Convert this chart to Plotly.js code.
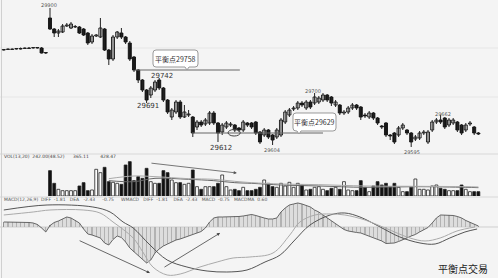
<!DOCTYPE html>
<html><head><meta charset="utf-8">
<script src="https://cdn.plot.ly/plotly-3.0.1.min.js"></script>
<style>html,body{margin:0;padding:0;background:#f4f4f4}#c{width:498px;height:278px}</style>
</head><body><div id="c"></div>
<script>
// ---- data ----
const openP = [29800,29801,29801,29802,29802,29803,29803,29804,29805,29804,29795,
29864,29842,29834,29836,29848,29844,29846,29846,29842,29834,29816,29828,29826,29842,29800,29782,29826,29834,29826,29814,29786,29760,29740,29720,29710,29720,29740,29724,29700,29666,29676,29696,29666,29670,29666,29646,29656,29652,29654,29674,29654,29636,29646,29650,29650,29644,29640,29654,29654,29656,29636,29630,29640,29630,29626,29630,29656,29670,29682,29684,29694,29684,29696,29694,29696,29700,29710,29706,29690,29690,29674,29676,29684,29690,29686,29670,29666,29674,29664,29648,29654,29630,29634,29630,29644,29640,29634,29622,29624,29634,29616,29640,29656,29660,29664,29650,29654,29656,29650,29640,29652,29646,29634];
const closeP = [29801,29801,29802,29802,29803,29803,29804,29805,29804,29794,29794,
29842,29834,29838,29848,29850,29852,29847,29834,29830,29814,29828,29830,29844,29800,29782,29826,29836,29826,29816,29782,29760,29740,29720,29700,29724,29736,29724,29700,29676,29680,29696,29666,29676,29672,29634,29656,29650,29660,29674,29654,29634,29650,29654,29652,29640,29640,29656,29650,29646,29634,29616,29640,29626,29620,29640,29660,29676,29680,29684,29694,29690,29696,29686,29706,29704,29710,29700,29694,29696,29674,29676,29684,29690,29684,29666,29668,29674,29664,29654,29646,29630,29628,29616,29644,29650,29634,29616,29626,29634,29636,29636,29656,29660,29656,29646,29660,29660,29640,29634,29650,29654,29634,29632];
const highP = [29802,29803,29803,29804,29805,29805,29806,29806,29806,29806,29796,
29884,29844,29842,29852,29854,29856,29850,29848,29844,29836,29832,29832,29864,29844,29802,29830,29838,29844,29828,29818,29788,29762,29742,29722,29728,29740,29744,29726,29702,29684,29700,29700,29690,29680,29668,29660,29660,29664,29678,29678,29656,29654,29658,29656,29652,29646,29660,29656,29656,29658,29638,29644,29642,29632,29644,29664,29680,29684,29688,29698,29698,29700,29700,29714,29708,29714,29712,29708,29700,29692,29680,29688,29694,29692,29688,29674,29678,29676,29666,29650,29656,29632,29636,29648,29654,29642,29636,29630,29638,29640,29640,29660,29664,29670,29666,29664,29664,29658,29652,29654,29658,29648,29636];
const lowP = [29799,29800,29800,29801,29801,29802,29802,29803,29803,29793,29792,
29840,29826,29826,29834,29846,29842,29844,29832,29828,29810,29812,29826,29824,29798,29770,29778,29822,29822,29812,29778,29756,29734,29716,29694,29704,29716,29720,29696,29672,29660,29672,29662,29664,29666,29626,29640,29646,29648,29650,29650,29616,29630,29642,29646,29636,29636,29636,29646,29642,29630,29612,29626,29622,29610,29622,29626,29652,29666,29678,29680,29686,29680,29682,29690,29692,29696,29696,29688,29686,29670,29670,29672,29680,29680,29660,29664,29662,29660,29650,29642,29626,29620,29612,29626,29640,29630,29606,29618,29620,29630,29612,29636,29652,29652,29642,29646,29650,29636,29630,29636,29648,29630,29630];
const volume = [null,null,null,null,null,null,null,null,null,null,null,
380,190,100,80,80,80,80,150,200,80,90,400,350,430,215,205,190,175,465,515,230,290,265,415,215,190,190,380,350,240,200,200,175,190,390,140,100,140,140,140,190,315,140,90,100,80,130,80,80,
100,130,240,190,140,130,190,150,205,130,190,165,90,100,130,140,100,80,115,130,100,215,90,80,80,230,130,65,150,215,165,190,140,190,130,65,65,130,255,100,100,90,150,165,115,100,80,80,80,165,100,65,65,65];
const volMA1x = [25,31,36,44,50,55,59,66,75,86,98,110,113];
const volMA1 = [230,215,265,250,230,200,190,165,150,130,140,130,125];
const volMA2 = [260,300,290,260,250,220,200,180,170,150,145,140,135];
const macdHist = [1.0,1.0,1.0,1.0,1.0,1.0,0.9,0.8,0.5,-0.2,-1.0,0.3,0.9,1.2,1.6,2.0,1.8,1.3,0.8,-0.4,-1.4,-1.6,-1.9,-2.2,-3.2,-3.6,-2.5,-1.8,-2.1,-3.0,-4.2,-5.0,-5.8,-6.4,-7.2,-6.6,-5.2,-4.4,-3.8,-3.4,-3.0,-2.6,-2.4,-2.1,-1.8,-1.5,-1.2,-0.9,-0.2,1.0,1.8,2.0,2.0,2.0,2.0,2.1,2.1,2.2,2.4,2.5,2.3,2.0,1.8,1.6,1.6,1.8,3.0,3.8,4.4,4.6,4.8,4.6,4.3,4.0,3.4,3.0,2.4,1.8,1.2,0.6,0.0,-0.5,-0.8,-1.0,-1.1,-1.2,-1.5,-1.8,-2.1,-2.4,-2.8,-3.3,-3.3,-3.2,-2.9,-2.6,-2.2,-1.8,-1.5,-1.0,-0.6,-0.1,0.8,1.8,2.4,2.4,2.4,2.3,2.1,1.8,1.3,0.9,0.5,0.2];
const deaX = [0,10.3,21.2,25.3,28.4,30.8,34.8,38.9,43.6,48.4,53.1,57.9,62.2,65.8,69.3,72.9,77.7,81.2,84.8,89.6,94.3,99.1,102.7,106.2,109.8,112.7];
const deaY = [3.4,4.4,4.0,3.0,1.0,-0.2,-3.6,-6.6,-8.0,-8.8,-9.0,-8.6,-7.0,-5.6,-2.6,0.4,2.4,2.8,2.0,0.0,-2.0,-3.2,-3.4,-2.2,-1.0,-0.4];
const diffX = [0,7,11,18.9,22.9,26,30.8,33.1,35.5,38.9,42,46.7,50.8,54.6,58.6,64.1,68.1,70.5,74.1,77.7,81.2,86,90.8,96.7,100.3,103.9,107.9,112.2];
const diffY = [2.4,3.0,3.4,3.4,2.8,1.0,-2.2,-5.0,-8.0,-9.6,-9.4,-8.0,-7.0,-6.2,-6.0,-5.2,-1.6,1.0,2.4,2.6,2.4,1.4,-0.2,-2.2,-2.8,-2.2,-0.8,0.0];
const idx = openP.map((_, i) => i);

// ---- helpers ----
const W = 498, H = 278;
const px = x => x / W, py = y => 1 - y / H;
const up = idx.map(i => closeP[i] >= openP[i]);
const bodyColor = up.map(u => u ? '#ffffff' : '#111111');
const bodyBase = idx.map(i => Math.min(openP[i], closeP[i]));
const bodyLen = idx.map(i => Math.max(Math.abs(closeP[i] - openP[i]), 1));
const wickX = [], wickY = [];
idx.forEach(i => { wickX.push(i, i, null); wickY.push(lowP[i], highP[i], null); });

const traces = [
  {type:'scatter', mode:'lines', x: wickX, y: wickY, xaxis:'x', yaxis:'y',
   line:{color:'#222', width:1}, hoverinfo:'skip', showlegend:false},
  {type:'bar', x: idx, y: bodyLen, base: bodyBase, xaxis:'x', yaxis:'y', width:0.72,
   marker:{color: bodyColor, line:{color:'#111', width:0.9}}, hoverinfo:'skip', showlegend:false},
  {type:'bar', x: idx, y: volume, xaxis:'x', yaxis:'y2', width:0.68,
   marker:{color: bodyColor, line:{color:'#222', width:0.8}}, showlegend:false, hoverinfo:'skip'},
  {type:'scatter', mode:'lines', x: volMA1x, y: volMA1, xaxis:'x', yaxis:'y2',
   line:{color:'#666', width:1, shape:'spline'}, showlegend:false, hoverinfo:'skip'},
  {type:'scatter', mode:'lines', x: volMA1x, y: volMA2, xaxis:'x', yaxis:'y2',
   line:{color:'#aaa', width:1, shape:'spline'}, showlegend:false, hoverinfo:'skip'},
  {type:'scatter', mode:'lines', x: idx, y: macdHist, xaxis:'x', yaxis:'y3', fill:'tozeroy',
   fillcolor:'rgba(205,205,205,0.6)', line:{color:'#666', width:1}, showlegend:false, hoverinfo:'skip'},
  {type:'bar', x: idx, y: macdHist, xaxis:'x', yaxis:'y3', width:0.3,
   marker:{color:'#8a8a8a'}, showlegend:false, hoverinfo:'skip'},
  {type:'scatter', mode:'lines', x: deaX, y: deaY, xaxis:'x', yaxis:'y3', line:{color:'#555', width:1, shape:'spline'}, showlegend:false, hoverinfo:'skip'},
  {type:'scatter', mode:'lines', x: diffX, y: diffY, xaxis:'x', yaxis:'y3', line:{color:'#aaa', width:1, shape:'spline'}, showlegend:false, hoverinfo:'skip'}
];

const tiny = {family:'DejaVu Sans', size:5, color:'#555'};
const small = {family:'DejaVu Sans', size:7, color:'#333'};
const cjk = {family:'Noto Sans CJK SC', size:7, color:'#333'};
const ann = [];
function ptext(text, x, y, font, anchor){ ann.push({text, x:px(x), y:py(y), xref:'paper', yref:'paper', showarrow:false, xanchor:anchor||'left', yanchor:'middle', font}); }
ptext('29900', 49, 5, tiny, 'center');
ptext('29742', 162, 76, small, 'center');
ptext('29691', 148, 106, small, 'center');
ptext('29612', 221, 148, small, 'center');
ptext('29604', 272, 150, tiny, 'center');
ptext('29700', 313, 91, tiny, 'center');
ptext('29595', 412, 152, tiny, 'center');
ptext('29662', 443, 114, tiny, 'center');
ptext('平衡点29758', 175.5, 58.5, cjk, 'center');
ptext('平衡点29629', 314.5, 122.5, cjk, 'center');
ptext('平衡点交易', 463, 268, {family:'Noto Sans CJK SC', size:10, color:'#222'}, 'center');
ptext('VOL(13,20)  242.00(48.52)      365.11        428.47', 2, 156, {family:'DejaVu Sans', size:4.5, color:'#444'});
ptext('MACD(12,26,9)  DIFF  -1.81   DEA   -2.43     -0.75     WMACD   DIFF  -1.81    DEA  -2.43   MACD  -0.75   MACDMA  0.60', 2, 199, {family:'DejaVu Sans', size:4.5, color:'#555'});
// arrows
ann.push({x:55.5, y:345, ax:34.8, ay:495, xref:'x', yref:'y2', axref:'x', ayref:'y2', showarrow:true, arrowhead:2, arrowsize:0.8, arrowwidth:0.8, arrowcolor:'#555', text:''});
ann.push({x:34.8, y:-9.2, ax:17.7, ay:-2.6, xref:'x', yref:'y3', axref:'x', ayref:'y3', showarrow:true, arrowhead:2, arrowsize:0.8, arrowwidth:0.8, arrowcolor:'#444', text:''});
ann.push({x:51.5, y:-1.2, ax:37.9, ay:-8.2, xref:'x', yref:'y3', axref:'x', ayref:'y3', showarrow:true, arrowhead:2, arrowsize:0.8, arrowwidth:0.8, arrowcolor:'#444', text:''});

// rounded callout boxes (paper coords, from pixel outline)
function callout(x0, y0, x1, y1, tx, r){
  const P = (x, y) => px(x).toFixed(5) + ',' + py(y).toFixed(5);
  return 'M' + P(x0 + r, y0) + ' L' + P(x1 - r, y0) + ' Q' + P(x1, y0) + ' ' + P(x1, y0 + r) +
    ' L' + P(x1, y1 - r) + ' Q' + P(x1, y1) + ' ' + P(x1 - r, y1) +
    ' L' + P(tx + 2, y1) + ' L' + P(tx, y1 + 3) + ' L' + P(tx - 2, y1) +
    ' L' + P(x0 + r, y1) + ' Q' + P(x0, y1) + ' ' + P(x0, y1 - r) +
    ' L' + P(x0, y0 + r) + ' Q' + P(x0, y0) + ' ' + P(x0 + r, y0) + ' Z';
}

const shapes = [
  {type:'line', xref:'paper', yref:'paper', x0:0, x1:1, y0:py(48), y1:py(48), line:{color:'#e6e6e6', width:1}, layer:'below'},
  {type:'line', xref:'paper', yref:'paper', x0:0, x1:1, y0:py(97), y1:py(97), line:{color:'#e6e6e6', width:1}, layer:'below'},
  {type:'line', xref:'paper', yref:'paper', x0:0, x1:1, y0:py(154), y1:py(154), line:{color:'#d8d8d8', width:1}, layer:'below'},
  {type:'line', xref:'paper', yref:'paper', x0:0, x1:1, y0:py(197), y1:py(197), line:{color:'#d8d8d8', width:1}, layer:'below'},
  {type:'line', xref:'paper', yref:'paper', x0:0, x1:1, y0:py(227), y1:py(227), line:{color:'#cfcfcf', width:1}, layer:'below'},
  {type:'line', xref:'paper', yref:'paper', x0:px(1.5), x1:px(1.5), y0:0, y1:1, line:{color:'#d0d0d0', width:1}, layer:'below'},
  {type:'line', xref:'x', yref:'y', x0:31.2, x1:56.2, y0:29760, y1:29760, line:{color:'#666', width:1}},
  {type:'line', xref:'x', yref:'y', x0:44.8, x1:76, y0:29634, y1:29634, line:{color:'#666', width:1}},
  {type:'circle', xref:'x', yref:'y', x0:53.4, x1:56.3, y0:29628, y1:29641, line:{color:'#444', width:1}},
  {type:'path', xref:'paper', yref:'paper', path: callout(153, 50, 198, 67, 187, 3), fillcolor:'#ffffff', line:{color:'#999', width:1}},
  {type:'path', xref:'paper', yref:'paper', path: callout(293, 113, 336, 131, 299, 3), fillcolor:'#ffffff', line:{color:'#999', width:1}}
];

const layout = {
  width:W, height:H, margin:{l:0, r:0, t:0, b:0},
  paper_bgcolor:'#f4f4f4', plot_bgcolor:'rgba(0,0,0,0)',
  showlegend:false, bargap:0, barmode:'overlay',
  xaxis:{range:[-0.905, 117.67], visible:false, anchor:'y3', fixedrange:true},
  yaxis:{domain:[0.4424, 1], range:[29590, 29900], visible:false, fixedrange:true},
  yaxis2:{domain:[0.2950, 0.4317], range:[0, 570], visible:false, fixedrange:true},
  yaxis3:{domain:[0, 0.2770], range:[-10.2, 5.2], visible:false, fixedrange:true},
  annotations: ann, shapes
};
Plotly.newPlot('c', traces, layout, {staticPlot:true, displayModeBar:false});
</script></body></html>
